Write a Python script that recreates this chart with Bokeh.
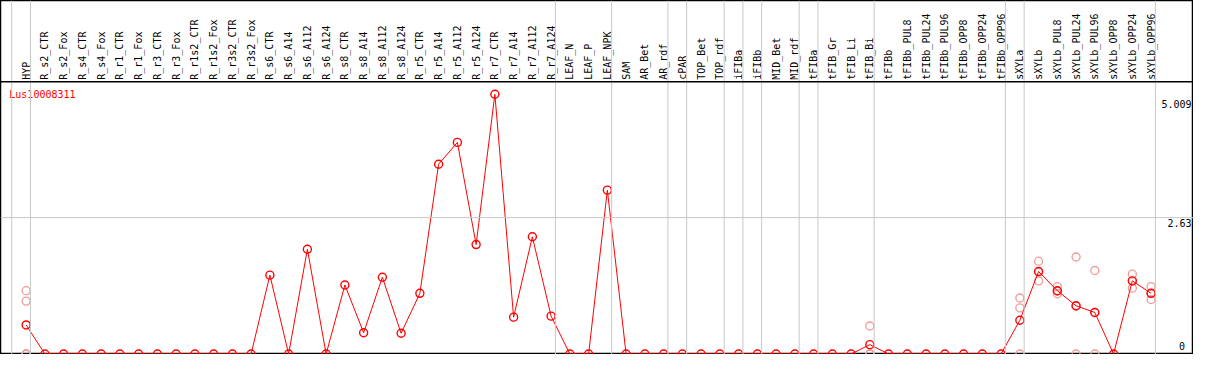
import numpy as np
from bokeh.plotting import figure
from bokeh.models import Span
from bokeh.embed import file_html
from bokeh.resources import INLINE
from bokeh.core.properties import value

gene = "Lus10008311"

categories = [
    "HYP", "R_s2_CTR", "R_s2_Fox", "R_s4_CTR", "R_s4_Fox", "R_r1_CTR", "R_r1_Fox",
    "R_r3_CTR", "R_r3_Fox", "R_r1s2_CTR", "R_r1s2_Fox", "R_r3s2_CTR", "R_r3s2_Fox",
    "R_s6_CTR", "R_s6_A14", "R_s6_A112", "R_s6_A124", "R_s8_CTR", "R_s8_A14",
    "R_s8_A112", "R_s8_A124", "R_r5_CTR", "R_r5_A14", "R_r5_A112", "R_r5_A124",
    "R_r7_CTR", "R_r7_A14", "R_r7_A112", "R_r7_A124", "LEAF_N", "LEAF_P", "LEAF_NPK",
    "SAM", "AR_Bet", "AR_rdf", "cPAR", "TOP_Bet", "TOP_rdf", "iFIBa", "iFIBb",
    "MID_Bet", "MID_rdf", "tFIBa", "tFIB_Gr", "tFIB_Li", "tFIB_Bi", "tFIBb",
    "tFIBb_PUL8", "tFIBb_PUL24", "tFIBb_PUL96", "tFIBb_OPP8", "tFIBb_OPP24",
    "tFIBb_OPP96", "sXYLa", "sXYLb", "sXYLb_PUL8", "sXYLb_PUL24", "sXYLb_PUL96",
    "sXYLb_OPP8", "sXYLb_OPP24", "sXYLb_OPP96",
]

means = [
    0.56,                                              # HYP
    0, 0, 0, 0, 0, 0, 0, 0, 0, 0, 0, 0,                # R_s2 .. R_r3s2
    1.52, 0, 2.02, 0,                                  # R_s6
    1.33, 0.41, 1.48, 0.40,                            # R_s8
    1.17, 3.66, 4.08, 2.11,                            # R_r5
    5.009, 0.71, 2.26, 0.73,                           # R_r7
    0, 0, 3.16,                                        # LEAF
    0, 0, 0, 0, 0, 0, 0, 0, 0, 0, 0, 0, 0,             # SAM .. tFIB_Li
    0.18,                                              # tFIB_Bi
    0, 0, 0, 0, 0, 0, 0,                               # tFIBb ..
    0.65, 1.59, 1.22, 0.93, 0.80, 0, 1.41, 1.17,       # sXYL
]

rep_cat = ["HYP", "HYP", "HYP", "HYP",
           "tFIB_Bi", "tFIB_Bi", "tFIB_Bi",
           "sXYLa", "sXYLa", "sXYLa",
           "sXYLb", "sXYLb", "sXYLb",
           "sXYLb_PUL8", "sXYLb_PUL8", "sXYLb_PUL8",
           "sXYLb_PUL24", "sXYLb_PUL24", "sXYLb_PUL24",
           "sXYLb_PUL96", "sXYLb_PUL96", "sXYLb_PUL96",
           "sXYLb_OPP24", "sXYLb_OPP24", "sXYLb_OPP24",
           "sXYLb_OPP96", "sXYLb_OPP96", "sXYLb_OPP96"]
rep_val = [1.22, 1.02, 0, 0,
           0.54, 0, 0,
           1.08, 0.89, 0,
           1.79, 1.58, 1.41,
           1.30, 1.21, 1.16,
           1.87, 0.92, 0,
           1.61, 0.80, 0,
           1.54, 1.41, 1.27,
           1.30, 1.17, 1.05]

# last category of each group (separators drawn after them)
group_ends = ["HYP", "R_r7_A124", "LEAF_NPK", "AR_rdf", "cPAR", "TOP_rdf",
              "iFIBa", "iFIBb", "MID_rdf", "tFIBa", "tFIB_Bi", "tFIBb_OPP96",
              "sXYLa", "sXYLb_OPP96"]

y_ticks = [0, 2.63, 5.009]
y_tick_labels = ["0", "2.63", "5.009"]

# ---------------------------------------------------------------------------
idx = {c: i for i, c in enumerate(categories)}
xs = list(range(len(categories)))
rx = [idx[c] for c in rep_cat]

W, H = 1193, 354
X0, X1 = -1.368, 62.263
Y0, Y1 = -0.01, 6.817
HEADER = 5.249
FONT = value("DejaVu Sans Mono")

p = figure(width=W, height=H, x_range=(X0, X1), y_range=(Y0, Y1),
           output_backend="svg", toolbar_location=None,
           x_axis_location=None, y_axis_location=None,
           min_border=0, min_border_left=0, min_border_right=0,
           min_border_top=0, min_border_bottom=0)
p.xgrid.visible = False
p.ygrid.visible = False
p.outline_line_color = "black"
p.outline_line_width = 1.5
p.background_fill_color = "white"
p.border_fill_color = "white"

# separators (before first category and after each group)
sep_pos = [-1 + 0.23] + [idx[c] + 0.23 for c in group_ends]
for s in sep_pos:
    p.add_layout(Span(location=s, dimension="height", line_color="#c8c8c8", line_width=1))

# mid gridline
p.add_layout(Span(location=y_ticks[1], dimension="width", line_color="#c8c8c8", line_width=1))
# header separator
p.add_layout(Span(location=HEADER, dimension="width", line_color="black", line_width=1.5))

# category labels
p.text(x=xs, y=[HEADER + 0.04] * len(xs), text=categories, angle=np.pi / 2,
       text_align="left", text_baseline="middle", text_font=FONT,
       text_font_size="10px", text_color="black")

# replicate points
p.scatter(x=rx, y=rep_val, marker="circle", size=8, line_color="#f09a9a",
          line_width=1.3, fill_alpha=0)

# mean line + markers
p.line(x=xs, y=means, line_color="red", line_width=1)
p.scatter(x=xs, y=means, marker="circle", size=8, line_color="red",
          line_width=1.4, fill_alpha=0)

# gene label
p.text(x=[X0 + 0.47], y=[HEADER - 0.13], text=[gene], text_align="left",
       text_baseline="top", text_font=FONT, text_font_size="10px", text_color="red")

# right-side value labels
xr = X1 - 0.1
p.text(x=[xr, xr], y=[y_ticks[2] - 0.11, y_ticks[1] - 0.02],
       text=[y_tick_labels[2], y_tick_labels[1]], text_align="right",
       text_baseline="top", text_font=FONT, text_font_size="10px", text_color="black")
p.text(x=[xr - 0.35], y=[y_ticks[0] + 0.08], text=[y_tick_labels[0]],
       text_align="right", text_baseline="bottom", text_font=FONT,
       text_font_size="10px", text_color="black")

open("out.html", "w").write(file_html(p, INLINE))
